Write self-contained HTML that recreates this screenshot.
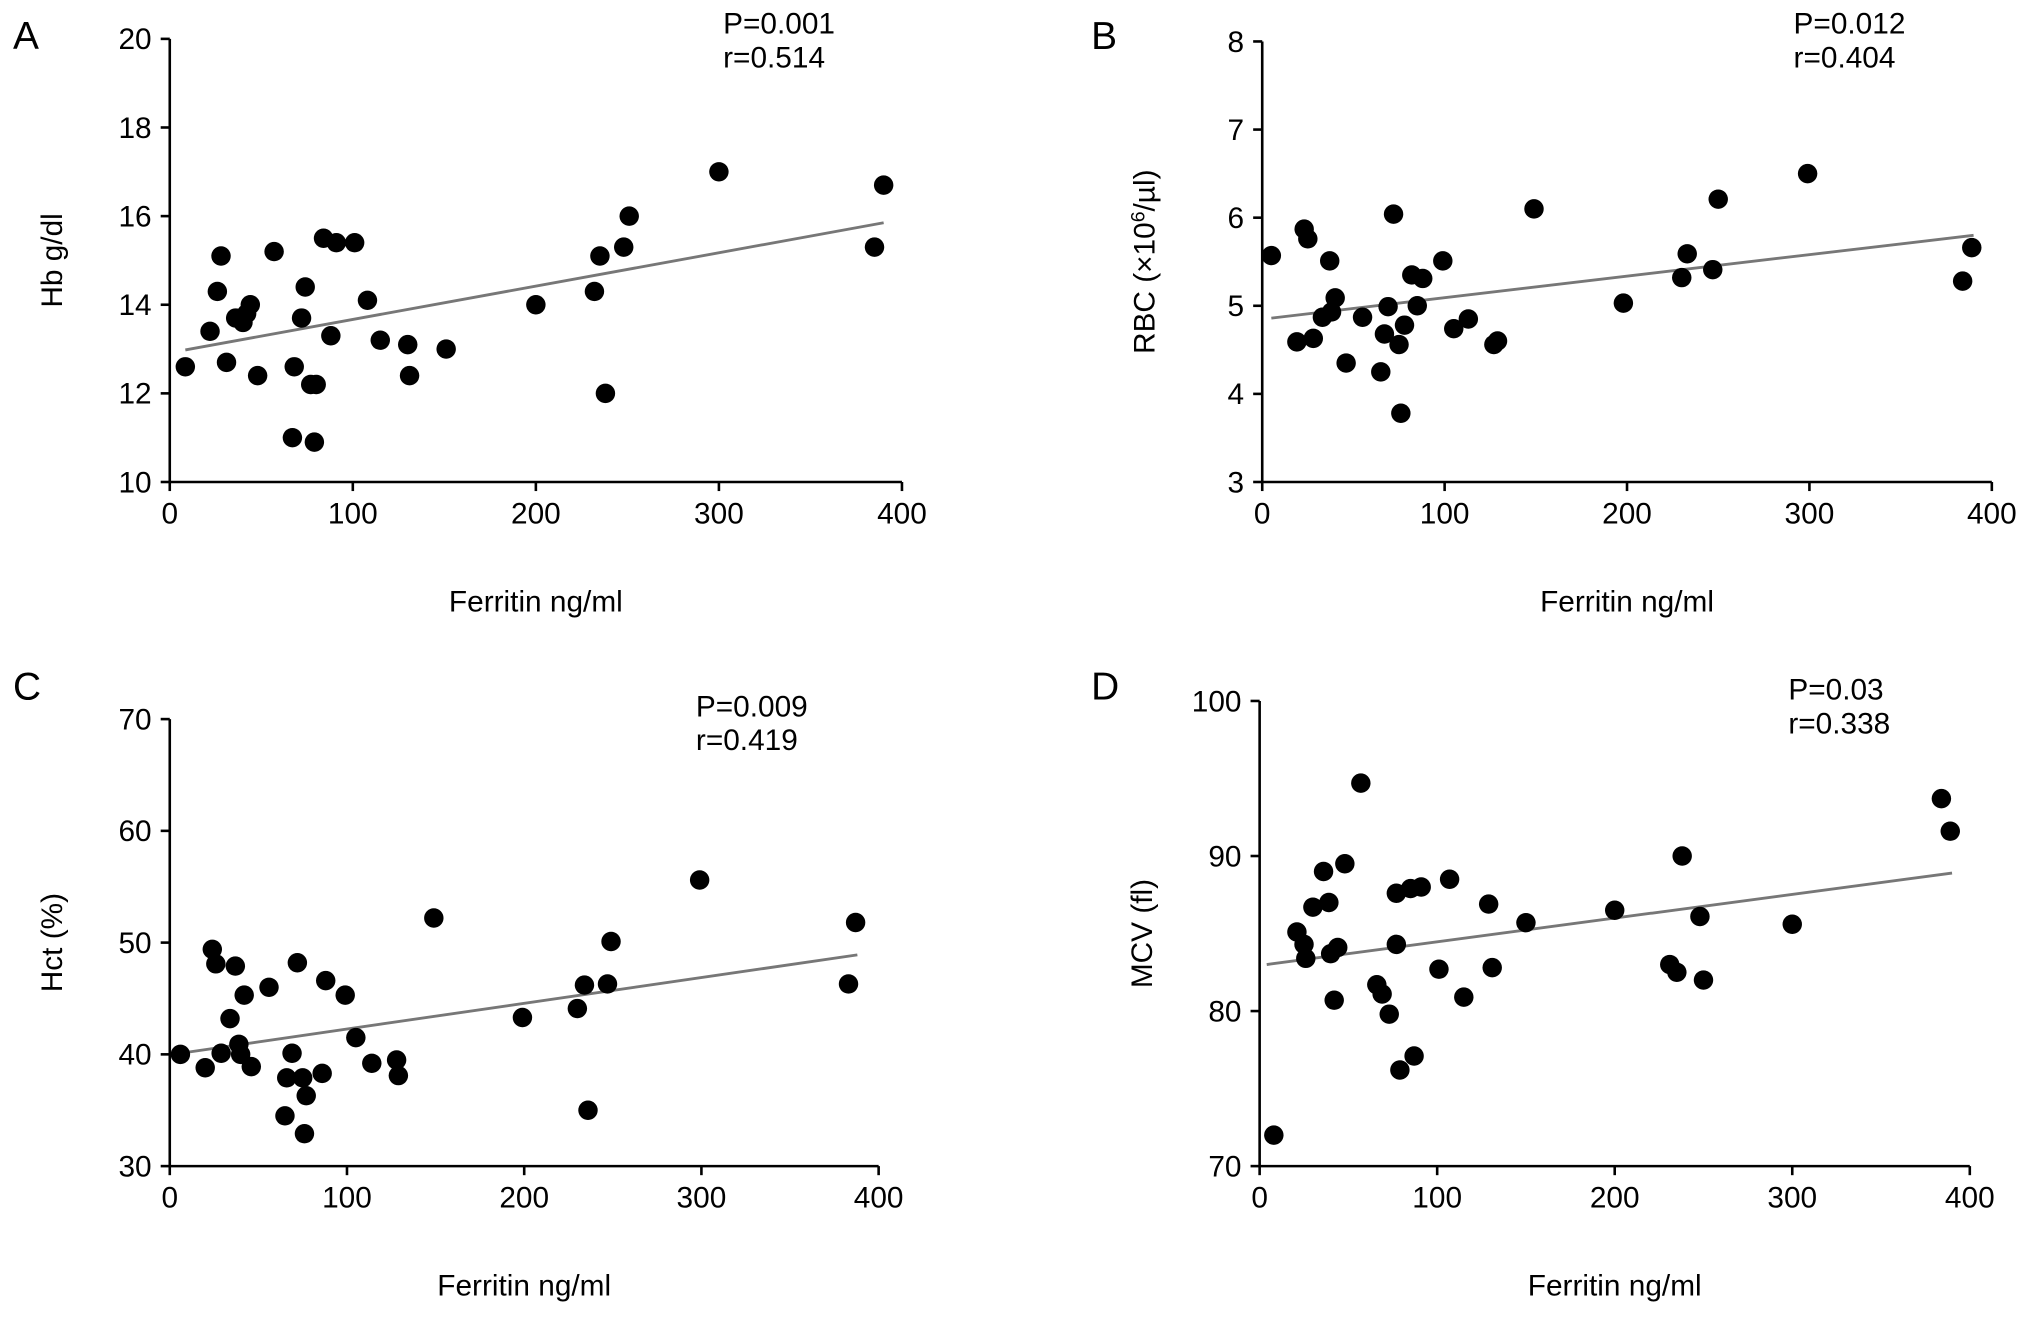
<!DOCTYPE html>
<html><head><meta charset="utf-8"><style>
html,body{margin:0;padding:0;background:#fff}
svg{display:block;font-family:"Liberation Sans",Arial,sans-serif}
</style></head><body>
<svg id="chart" width="2032" height="1319" viewBox="0 0 1568 1018" preserveAspectRatio="none" xmlns="http://www.w3.org/2000/svg"></svg>
<script>
// Panel A: Hb
const aX=[8.5,22,26,28,31,36,40,42,44,48,57,67,68,72,74,77,79,80,84,88,91,101,108,115,130,131,151,200,232,235,238,248,251,300,385,390];
const aY=[12.6,13.4,14.3,15.1,12.7,13.7,13.6,13.8,14.0,12.4,15.2,11.0,12.6,13.7,14.4,12.2,10.9,12.2,15.5,13.3,15.4,15.4,14.1,13.2,13.1,12.4,13.0,14.0,14.3,15.1,12.0,15.3,16.0,17.0,15.3,16.7];
const aLine=[8.5,12.98,390,15.85];
const aYTicks=[10,12,14,16,18,20];
// Panel B: RBC
const bX=[5,19,23,25,28,33,37,38,40,46,55,65,67,69,72,75,76,78,82,85,88,99,105,113,127,129,149,198,230,233,247,250,299,384,389];
const bY=[5.57,4.59,5.87,5.76,4.63,4.87,5.51,4.93,5.09,4.35,4.87,4.25,4.68,4.99,6.04,4.56,3.78,4.78,5.35,5.0,5.31,5.51,4.74,4.85,4.56,4.6,6.1,5.03,5.32,5.59,5.41,6.21,6.5,5.28,5.66];
const bLine=[5,4.86,390,5.8];
const bYTicks=[3,4,5,6,7,8];
// Panel C: Hct
const cX=[6,20,24,26,29,34,37,39,40,42,46,56,65,66,69,72,75,76,77,86,88,99,105,114,128,129,149,199,230,234,236,247,249,299,383,387];
const cY=[40,38.8,49.4,48.1,40.1,43.2,47.9,40.9,40.0,45.3,38.9,46.0,34.5,37.9,40.1,48.2,37.9,32.9,36.3,38.3,46.6,45.3,41.5,39.2,39.5,38.1,52.2,43.3,44.1,46.2,35.0,46.3,50.1,55.6,46.3,51.8];
const cLine=[6,40.1,388,48.9];
const cYTicks=[30,40,50,60,70];
// Panel D: MCV
const dX=[8,21,25,26,30,36,39,40,42,44,48,57,66,69,73,77,77,79,85,87,91,101,107,115,129,131,150,200,231,235,238,248,250,300,384,389];
const dY=[72.0,85.1,84.3,83.4,86.7,89.0,87.0,83.7,80.7,84.1,89.5,94.7,81.7,81.1,79.8,84.3,87.6,76.2,87.9,77.1,88.0,82.7,88.5,80.9,86.9,82.8,85.7,86.5,83.0,82.5,90.0,86.1,82.0,85.6,93.7,91.6];
const dLine=[4,83.0,390,88.9];
const dYTicks=[70,80,90,100];
const xTicks=[0,100,200,300,400];

const NS="http://www.w3.org/2000/svg";
const svg=document.getElementById('chart');
function mk(tag,attrs,parent,text){const e=document.createElementNS(NS,tag);for(const k in attrs)e.setAttribute(k,attrs[k]);if(text!==undefined)e.textContent=text;(parent||svg).appendChild(e);return e;}

function panel(o){
  const g=mk('g',{});
  
  
  const sx=v=>o.x0+(v-0)/400*(o.x1-o.x0);
  const sy=v=>o.y0-(v-o.ymin)/(o.ymax-o.ymin)*(o.y0-o.y1);
  const ax=mk('path',{d:`M${o.x0},${o.y1} V${o.y0} H${o.x1}`,stroke:'#000','stroke-width':2,fill:'none'},g);
  
  
  xTicks.forEach(t=>{
    mk('line',{x1:sx(t),x2:sx(t),y1:o.y0,y2:o.y0+7,stroke:'#000','stroke-width':2},g);
    const tl=mk('text',{x:sx(t),y:o.y0+32,'text-anchor':'middle','font-size':23},g,String(t));
    
    
  });
  o.yTicks.forEach(t=>{
    mk('line',{x1:o.x0-7,x2:o.x0,y1:sy(t),y2:sy(t),stroke:'#000','stroke-width':2},g);
    const tl=mk('text',{x:o.x0-14,y:sy(t)+8,'text-anchor':'end','font-size':23},g,String(t));
    
    
  });
  const xt=mk('text',{x:(o.x0+o.x1)/2,y:o.y0+100,'text-anchor':'middle','font-size':23},g,'Ferritin ng/ml');
  
  
  const yt=mk('text',{x:0,y:0,'text-anchor':'middle','font-size':23,transform:`translate(${o.x0-83},${(o.y0+o.y1)/2}) rotate(-90)`},g);
  yt.innerHTML=o.ylabel;
  
  
  const lt=mk('text',{x:o.lx,y:o.ly,'font-size':30},g,o.letter);
  
  
  const st=mk('text',{x:o.sx,y:o.sy,'font-size':23},g);
  
  
  mk('tspan',{x:o.sx,dy:0},st,o.p);
  mk('tspan',{x:o.sx,dy:26},st,o.r);
  const ln=mk('line',{x1:sx(o.line[0]),y1:sy(o.line[1]),x2:sx(o.line[2]),y2:sy(o.line[3]),stroke:'#777','stroke-width':2.2},g);
  
  
  o.xs.forEach((v,i)=>{
    const c=mk('circle',{cx:sx(v),cy:sy(o.ys[i]),r:7.5,fill:'#000'},g);
    
    
  });
}
panel({letter:'A',lx:10,ly:38,x0:131,x1:696,y0:372,y1:30,ymin:10,ymax:20,yTicks:aYTicks,xs:aX,ys:aY,line:aLine,ylabel:'Hb g/dl',sx:558,sy:26,p:'P=0.001',r:'r=0.514'});
panel({letter:'B',lx:842,ly:38,x0:974,x1:1537,y0:372,y1:32,ymin:3,ymax:8,yTicks:bYTicks,xs:bX,ys:bY,line:bLine,ylabel:'RBC (×10<tspan dy="-8" font-size="15">6</tspan><tspan dy="8">/µl)</tspan>',sx:1384,sy:26,p:'P=0.012',r:'r=0.404'});
panel({letter:'C',lx:10,ly:540,x0:131,x1:678,y0:900,y1:555,ymin:30,ymax:70,yTicks:cYTicks,xs:cX,ys:cY,line:cLine,ylabel:'Hct (%)',sx:537,sy:553,p:'P=0.009',r:'r=0.419'});
panel({letter:'D',lx:842,ly:540,x0:972,x1:1520,y0:900,y1:541,ymin:70,ymax:100,yTicks:dYTicks,xs:dX,ys:dY,line:dLine,ylabel:'MCV (fl)',sx:1380,sy:540,p:'P=0.03',r:'r=0.338'});
</script>
</body></html>
